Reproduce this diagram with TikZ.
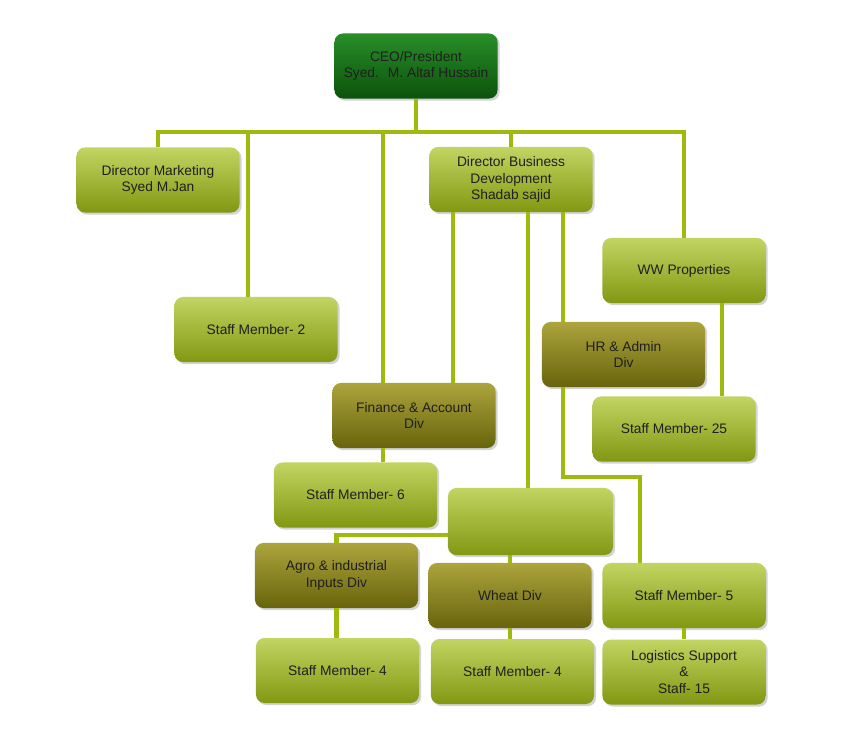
\documentclass[tikz,border=0pt]{standalone}
\usepackage{fontspec}
\setmainfont{Liberation Sans}
\usepackage{tikz}
\usetikzlibrary{calc,shadows}
\definecolor{linkgreen}{RGB}{158,186,14}
\definecolor{lighttop}{RGB}{194,212,98}
\definecolor{lightbot}{RGB}{130,152,18}
\definecolor{darktop}{RGB}{172,164,60}
\definecolor{darkbot}{RGB}{104,100,12}
\definecolor{ceotop}{RGB}{40,142,40}
\definecolor{ceobot}{RGB}{12,82,12}
\tikzset{
  box/.style={rectangle, rounded corners=6pt, minimum width=4.075cm, minimum height=1.625cm,
    align=center, inner sep=2pt, text=black!88, font=\fontsize{9.8}{11.8}\selectfont,
    drop shadow={shadow xshift=1.5pt, shadow yshift=-1.5pt, opacity=0.35}},
  lightbox/.style={box, top color=lighttop, bottom color=lightbot},
  darkbox/.style={box, top color=darktop, bottom color=darkbot},
  ceobox/.style={box, top color=ceotop, bottom color=ceobot},
  link/.style={draw=linkgreen, line width=3.5pt}
}

\begin{document}
\begin{tikzpicture}[x=0.025cm,y=-0.025cm]
    \useasboundingbox (0,0) rectangle (844,732);

    \node[ceobox] (ceo) at (416,66) {CEO/President\\Syed.~ M. Altaf Hussain};
    \node[lightbox] (dirmkt) at (158,180) {Director Marketing\\Syed M.Jan};
    \node[lightbox] (dirbd) at (511,179.5) {Director Business\\Development\\Shadab sajid};
    \node[lightbox] (staff2) at (256,329.5) {Staff Member- 2};
    \node[lightbox] (ww) at (684,270.5) {WW Properties};
    \node[darkbox] (hr) at (623.5,354.5) {HR \& Admin\\Div};
    \node[lightbox] (staff25) at (674,429) {Staff Member- 25};
    \node[darkbox] (finance) at (414,415.5) {Finance \& Account\\Div};
    \node[lightbox] (staff6) at (355.5,495) {Staff Member- 6};
    \node[lightbox,minimum width=4.125cm,minimum height=1.675cm] (blank) at (530.5,521.5) {};
    \node[darkbox] (agro) at (336.5,575.5) {Agro \& industrial\\Inputs Div};
    \node[darkbox] (wheat) at (510,595.5) {Wheat Div};
    \node[lightbox] (staff5) at (684,595.5) {Staff Member- 5};
    \node[lightbox] (staff4a) at (337.5,670.5) {Staff Member- 4};
    \node[lightbox] (staff4b) at (512.5,671.5) {Staff Member- 4};
    \node[lightbox] (logist) at (684,672) {Logistics Support\\\&\\Staff- 15};

    \coordinate (bus) at (417,132);
    \coordinate (bend) at (640,477);
    \coordinate (s2top) at ($(staff2.north)+(-8,0)$);
    \coordinate (fintop) at ($(finance.north)+(-31,0)$);
    \coordinate (finbot) at ($(finance.south)+(-31,0)$);
    \coordinate (bd1) at ($(dirbd.south)+(-58,0)$);
    \coordinate (bd2) at ($(dirbd.south)+(17,0)$);
    \coordinate (bd3) at ($(dirbd.south)+(52,0)$);
    \coordinate (hrbot) at ($(hr.south)+(-60.5,0)$);
    \coordinate (wwbot) at ($(ww.south)+(38,0)$);
    \coordinate (blnkw) at ($(blank.west)+(0,13.5)$);

    \draw[link] (ceo.south) -- (ceo.south |- bus);
    \draw[link] (dirmkt.north) |- (bus) -| (ww.north);
    \draw[link] (s2top) -- (s2top |- bus);
    \draw[link] (fintop) -- (fintop |- bus);
    \draw[link] (dirbd.north) -- (dirbd.north |- bus);
    \draw[link] (bd1) -- (bd1 |- finance.north);
    \draw[link] (bd2) -- (bd2 |- blank.north);
    \draw[link] (bd3) -- (bd3 |- hr.north);
    \draw[link] (hrbot) |- (bend) -- (bend |- staff5.north);
    \draw[link] (wwbot) -- (wwbot |- staff25.north);
    \draw[link] (finbot) -- (finbot |- staff6.north);
    \draw[link] (blnkw) -| (agro.north);
    \draw[link] (wheat.north) -- (wheat.north |- blank.south);
    \draw[link] (agro.south) -- (agro.south |- staff4a.north);
    \draw[link] (wheat.south) -- (wheat.south |- staff4b.north);
    \draw[link] (staff5.south) -- (staff5.south |- logist.north);
\end{tikzpicture}
\end{document}
